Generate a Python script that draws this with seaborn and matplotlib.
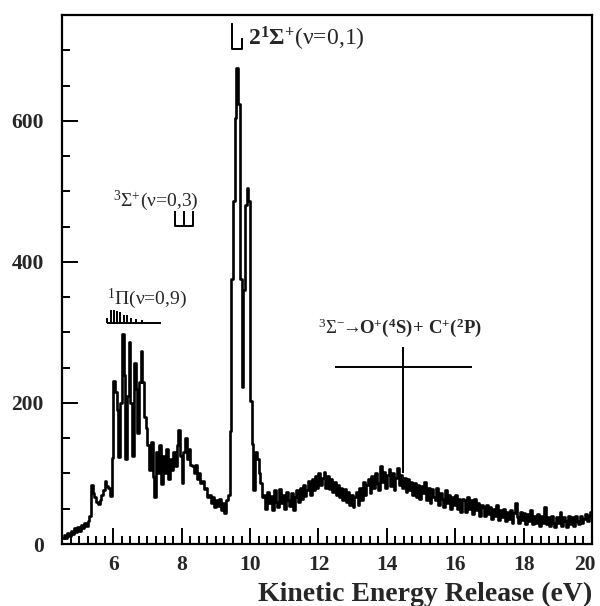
import numpy as np
import pandas as pd
import matplotlib
matplotlib.use("Agg")
import matplotlib.pyplot as plt
from matplotlib.ticker import MultipleLocator
from matplotlib.transforms import ScaledTranslation
import seaborn as sns

# ---------------- data (counts per 0.05 eV bin, 4.5 - 20.0 eV) ----------------
ker_range = (4.5, 20.0)

counts_rise = [8, 13, 9, 16, 12, 19, 14, 22, 17, 24,
               19, 27, 22, 30, 25, 32, 40, 84, 72, 66,
               60, 57, 62, 70, 76, 90, 82, 80, 68, 122]            # 4.50 - 5.95
counts_pi = [231, 215, 190, 123, 200, 298, 240, 121, 210, 286,
             200, 125, 256, 220, 158, 230, 274, 230, 180, 165]       # 6.00 - 6.95
counts_mid = [140, 105, 145, 95, 66, 130, 100, 140, 85, 125,
              100, 135, 92, 120, 105, 130, 110, 140, 161, 125]       # 7.00 - 7.95
counts_sig3 = [86, 130, 151, 120, 135, 112]                          # 8.00 - 8.25
counts_valley = [110, 100, 112, 92, 100, 86, 90, 78, 80, 66,
                 70, 58, 66, 52, 62, 54, 64, 48, 58, 44, 62, 70]     # 8.30 - 9.35
counts_sig21 = [160, 376, 487, 604, 675, 624, 376, 222, 360, 480,
                505, 487, 203, 142, 76, 130, 120, 100, 86, 66]       # 9.40 - 10.35
counts_tail = [70, 50, 74, 58, 68, 48, 76, 60, 52, 78,
               58, 70, 50, 74, 62, 54, 72, 48, 66, 76,
               60, 80, 64, 84, 68, 76, 90, 70, 92, 76,
               96, 80, 100, 84, 94, 102, 80, 96, 78, 92,
               74, 88, 70, 84, 66, 80, 62, 78, 60, 74,
               56, 70, 52, 66, 74, 56, 80, 62, 88, 70,
               84, 92, 72, 96, 80, 100, 86, 76, 110, 88,
               102, 80, 98, 106, 82, 100, 76, 94, 108, 84,
               98, 80, 94, 74, 92, 76, 88, 70, 86, 66,
               84, 64, 82, 72, 88, 62, 80, 58, 78, 66,
               62, 80, 56, 72, 64, 52, 76, 58, 70, 50,
               66, 56, 70, 50, 64, 46, 64, 62, 46, 66,
               50, 62, 42, 64, 48, 58, 40, 56, 52, 40,
               56, 42, 52, 36, 50, 40, 56, 34, 48, 38,
               50, 32, 46, 36, 48, 30, 44, 58, 38, 30,
               46, 34, 44, 28, 42, 32, 48, 28, 40, 30,
               42, 26, 40, 30, 52, 28, 38, 26, 40, 30,
               24, 38, 30, 46, 26, 38, 32, 24, 40, 28,
               38, 26, 40, 32, 28, 40, 30, 36, 42, 32,
               40, 46]                                               # 10.40 - 19.95

counts = (counts_rise + counts_pi + counts_mid + counts_sig3
          + counts_valley + counts_sig21 + counts_tail)
bin_edges = list(np.linspace(ker_range[0], ker_range[1], len(counts) + 1))
bin_centers = [0.5 * (a + b) for a, b in zip(bin_edges[:-1], bin_edges[1:])]
df = pd.DataFrame({"ker": bin_centers, "counts": counts})

# ---------------- style ----------------
sns.set_style("white")
plt.rcParams["font.family"] = ["Liberation Serif", "DejaVu Serif"]
plt.rcParams["mathtext.fontset"] = "custom"
plt.rcParams["mathtext.rm"] = "Liberation Serif"
plt.rcParams["mathtext.it"] = "Liberation Serif:italic"
plt.rcParams["mathtext.bf"] = "Liberation Serif:bold"

fig = plt.figure(figsize=(6.0, 6.06), dpi=100)
ax = fig.add_axes([0.1033, 0.1023, 0.8834, 0.8729])

sns.histplot(data=df, x="ker", weights="counts", bins=bin_edges,
             element="step", fill=False, color="black", linewidth=1.9, ax=ax)

ax.set_xlim(4.5, 20.0)
ax.set_ylim(0, 750)

for s in ax.spines.values():
    s.set_linewidth(1.6)
    s.set_color("black")

ax.xaxis.set_major_locator(MultipleLocator(2))
ax.xaxis.set_minor_locator(MultipleLocator(0.25))
ax.yaxis.set_major_locator(MultipleLocator(200))
ax.yaxis.set_minor_locator(MultipleLocator(50))
ax.tick_params(which="both", direction="in", top=False, right=False,
               bottom=True, left=True, width=1.4, color="black")
ax.tick_params(which="major", length=11.5, labelsize=15.5)
ax.tick_params(which="minor", length=5.8)
ax.tick_params(axis="y", which="major", pad=13)
ax.tick_params(axis="x", which="major", pad=8)

ax.set_ylabel("")
ax.set_xlabel("Kinetic Energy Release (eV)", fontsize=20, fontweight="bold",
              loc="right", labelpad=5)

# ---------------- annotations ----------------
lk = dict(color="black", lw=1.4, solid_capstyle="butt")
# 2 1Sigma+ (v=0,1)
ax.plot([9.47, 9.47, 9.77, 9.77], [739, 702, 702, 717], **lk)
ax.text(9.95, 716, r"$\mathbf{2^{1}\Sigma^{+}}$(ν=0,1)", fontsize=17, va="center")
# 3Sigma+ (v=0,3)
ax.plot([7.81, 7.81, 8.34, 8.34], [472, 451, 451, 472], **lk)
ax.plot([8.07, 8.07], [451, 472], **lk)
ax.text(5.99, 487, r"$^{3}\Sigma^{+}$(ν=0,3)", fontsize=14, va="center")
# 1Pi (v=0,9) comb
ax.plot([5.82, 7.40], [314, 314], **lk)
comb_pos = [5.83, 5.93, 6.02, 6.11, 6.20, 6.30, 6.40, 6.52, 6.65, 6.85]
comb_h = [6, 18, 18, 17, 15, 11, 10, 7, 5, 4]
for p, h in zip(comb_pos, comb_h):
    ax.plot([p, p], [314, 314 + h], **lk)
ax.text(5.82, 348, r"$^{1}\Pi$(ν=0,9)", fontsize=14, va="center")
# 3Sigma- -> O+(4S) + C+(2P)
ax.plot([12.49, 16.50], [251.6, 251.6], **lk)
ax.plot([14.48, 14.48], [280, 100], **lk)
ax.text(11.99, 307,
        r"$^{3}\Sigma^{-}\!\!\rightarrow\!\!\mathbf{O^{+}(^{4}S)\!+\,C^{+}(^{2}P)}$",
        fontsize=13.5, va="center")

fig.canvas.draw()
plt.setp(ax.get_xticklabels(), fontweight="bold")
plt.setp(ax.get_yticklabels(), fontweight="bold")
# nudge the last x tick label ("20") inward so it stays inside the figure
last = [t for t in ax.xaxis.get_major_ticks() if abs(t.get_loc() - 20.0) < 1e-6]
for t in last:
    t.label1.set_transform(t.label1.get_transform()
                           + ScaledTranslation(-5 / 72, 0, fig.dpi_scale_trans))

fig.savefig("out.png", dpi=100)
